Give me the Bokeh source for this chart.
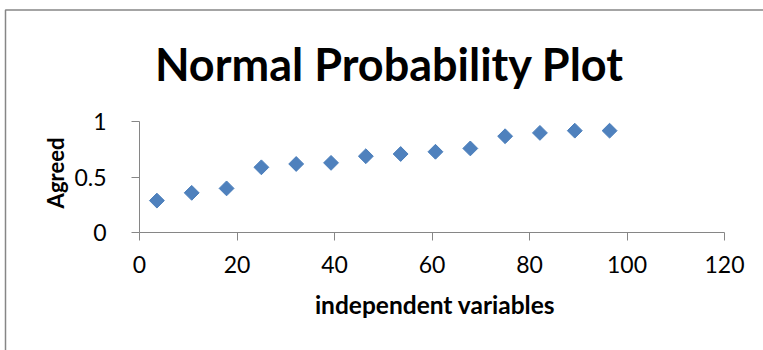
from bokeh.plotting import figure
from bokeh.models import Range1d, FixedTicker, Label
from bokeh.embed import file_html
from bokeh.resources import INLINE
import math

# Percentile positions of the ordered observations and their values
independent = [3.57, 10.71, 17.86, 25.0, 32.14, 39.29, 46.43,
               53.57, 60.71, 67.86, 75.0, 82.14, 89.29, 96.43]
agreed = [0.29, 0.36, 0.40, 0.59, 0.62, 0.63, 0.69,
          0.71, 0.73, 0.76, 0.87, 0.90, 0.92, 0.92]
x_ticks = [0, 20, 40, 60, 80, 100, 120]
y_ticks = [0, 0.5, 1]

FONT = "Lato"
AXIS_GRAY = "#868686"
W, H = 763, 350

# Plot-area placement on the canvas (pixels): x 0..120 and y 0..1
PX0, PX1 = 139.0, 724.0
PY0, PY1 = 232.3, 121.3
sx = (PX1 - PX0) / 120.0
sy = (PY0 - PY1) / 1.0

def dx(px):  # canvas x -> data x
    return (px - PX0) / sx

def dy(py):  # canvas y -> data y
    return (PY0 - py) / sy

# The frame covers the whole canvas; axes are pinned at the origin.
p = figure(width=W, height=H, output_backend="svg", toolbar_location=None,
           x_range=Range1d(dx(0), dx(W)), y_range=Range1d(dy(H), dy(0)),
           min_border=0, min_border_left=0, min_border_right=0,
           min_border_top=0, min_border_bottom=0)
p.outline_line_color = None
p.grid.visible = False
p.background_fill_color = "white"
p.border_fill_color = "white"

# Chart-area edge (left and top), running off the canvas on the other sides
p.line([dx(5), dx(5), dx(W + 50)], [dy(H + 50), dy(9.5), dy(9.5)],
       line_color=AXIS_GRAY, line_width=1.5)

p.scatter(independent, agreed, marker="square", angle=math.pi / 4, size=10.5,
          fill_color="#4F81BD", line_color="#4A7EBB", line_width=1)

for ax in (p.xaxis[0], p.yaxis[0]):
    ax.fixed_location = 0
    ax.axis_line_color = AXIS_GRAY
    ax.major_tick_line_color = AXIS_GRAY
    ax.minor_tick_line_color = None
    ax.major_tick_in = 0
    ax.major_tick_out = 8
    ax.major_label_text_font = FONT
    ax.major_label_text_font_size = "23px"
    ax.major_label_text_color = "black"

p.xaxis.ticker = FixedTicker(ticks=x_ticks)
p.yaxis.ticker = FixedTicker(ticks=y_ticks)
p.xaxis.bounds = (0, 120)
p.yaxis.bounds = (0, 1)
p.yaxis.major_label_overrides = {0: "0", 0.5: "0.5", 1: "1"}
p.xaxis.major_label_standoff = 15
p.yaxis.major_label_standoff = 25

BASE_SHIFT = 12  # alphabetic baseline correction, px

p.add_layout(Label(x=dx(389), y=dy(75 - BASE_SHIFT), text="Normal Probability Plot",
                   text_font=FONT, text_font_style="bold", text_font_size="45px",
                   text_align="center", text_baseline="alphabetic",
                   text_color="black"))
p.add_layout(Label(x=dx(434.5), y=dy(316 - BASE_SHIFT), text="independent variables",
                   text_font=FONT, text_font_style="bold", text_font_size="24.5px",
                   text_align="center", text_baseline="alphabetic",
                   text_color="black"))
p.add_layout(Label(x=dx(55), y=dy(172.5), text="Agreed", angle=math.pi / 2,
                   text_font=FONT, text_font_style="bold", text_font_size="22px",
                   text_align="center", text_baseline="middle",
                   text_color="black"))

open("out.html", "w").write(file_html(p, INLINE))
